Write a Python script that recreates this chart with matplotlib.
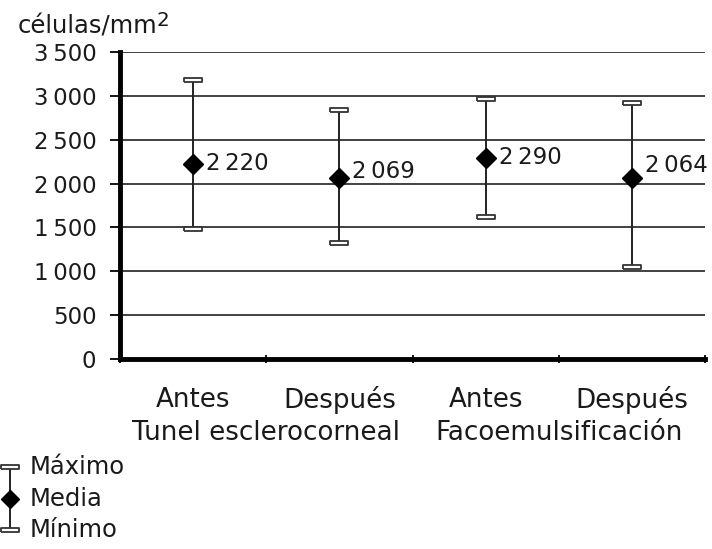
import matplotlib
matplotlib.use("Agg")
import matplotlib.pyplot as plt
from matplotlib.lines import Line2D
import numpy as np

categories = ["Antes", "Después", "Antes", "Después"]
groups = ["Tunel esclerocorneal", "Facoemulsificación"]
maximo = [3180, 2840, 2960, 2915]
media = [2220, 2069, 2290, 2064]
minimo = [1480, 1325, 1615, 1045]
yticks = [0, 500, 1000, 1500, 2000, 2500, 3000, 3500]
ytick_labels = ["0", "500", "1\u2009000", "1\u2009500", "2\u2009000", "2\u2009500", "3\u2009000", "3\u2009500"]
media_labels = ["2\u2009220", "2\u2009069", "2\u2009290", "2\u2009064"]

plt.rcParams['font.family'] = ['DejaVu Sans']
FS = 17.5
FSC = 18.8
FSN = 16.5
TXT = "#1a1a1a"

W, H = 712, 549
fig = plt.figure(figsize=(W / 100, H / 100), dpi=100)
ax = fig.add_axes([120 / W, 1 - 359 / H, (705 - 120) / W, (359 - 52) / H])

x = np.arange(len(categories))
ax.set_xlim(-0.5, len(categories) - 0.5)
ax.set_ylim(0, 3500)

for yv in yticks[1:]:
    ax.axhline(yv, color="#333333", lw=1.3, zorder=1)

rect = [(-1, -0.25), (1, -0.25), (1, 0.25), (-1, 0.25), (-1, -0.25)]
for i in range(len(categories)):
    ax.plot([x[i], x[i]], [minimo[i], maximo[i]], color="#222222", lw=1.4, zorder=2)
ax.plot(x, maximo, ls="none", marker=rect, markersize=13, markerfacecolor="white",
        markeredgecolor="#333333", markeredgewidth=1.3, zorder=3)
ax.plot(x, minimo, ls="none", marker=rect, markersize=13, markerfacecolor="white",
        markeredgecolor="#333333", markeredgewidth=1.3, zorder=3)
ax.plot(x, media, ls="none", marker="D", markersize=10, color="black", zorder=4)

offsets = [(13, 1), (13, 6), (13, 1), (13, 12)]
for i in range(len(categories)):
    ax.annotate(media_labels[i], (x[i], media[i]), xytext=offsets[i], textcoords="offset pixels",
                ha="left", va="center", fontsize=FSN, color=TXT)

ax.set_yticks(yticks)
ax.set_yticklabels(ytick_labels, fontsize=FSN, color=TXT)
ax.set_xticks(np.arange(-0.5, len(categories), 1.0))
ax.set_xticklabels([])
ax.tick_params(axis="y", length=7, width=1.3, pad=10, direction="out")
ax.tick_params(axis="x", length=6, width=1.3, direction="inout")
for s in ["top", "right"]:
    ax.spines[s].set_visible(False)
ax.spines["left"].set_linewidth(3.5)
ax.spines["bottom"].set_linewidth(3.5)
ax.spines["left"].set_zorder(5)
ax.spines["bottom"].set_zorder(5)

for i, c in enumerate(categories):
    ax.text(x[i], -0.133, c, transform=ax.get_xaxis_transform(), ha="center", va="center",
            fontsize=FSC, color=TXT)
for g, name in enumerate(groups):
    ax.text(2 * g + 0.5, -0.242, name, transform=ax.get_xaxis_transform(), ha="center", va="center",
            fontsize=FSC, color=TXT)

t = fig.text(18 / W, 1 - 27 / H, "células/mm", fontsize=FS, color=TXT, ha="left", va="center")
fig.canvas.draw()
ax.annotate("2", xy=(1, 0.5), xycoords=t, xytext=(-1, 7), textcoords="offset pixels",
            fontsize=FS * 0.82, color=TXT, ha="left", va="center", annotation_clip=False)

# legend drawn in figure pixels
lx = 10
ys = [467, 499, 530]
fig.add_artist(Line2D([lx / W, lx / W], [1 - ys[0] / H, 1 - ys[2] / H], transform=fig.transFigure,
                      color="#222222", lw=1.4))
fig.add_artist(Line2D([lx / W], [1 - ys[0] / H], transform=fig.transFigure, marker=rect, markersize=13,
                      markerfacecolor="white", markeredgecolor="#333333", markeredgewidth=1.3))
fig.add_artist(Line2D([lx / W], [1 - ys[2] / H], transform=fig.transFigure, marker=rect, markersize=13,
                      markerfacecolor="white", markeredgecolor="#333333", markeredgewidth=1.3))
fig.add_artist(Line2D([lx / W], [1 - ys[1] / H], transform=fig.transFigure, marker="D", markersize=9,
                      color="black"))
for yy, lab in zip(ys, ["Máximo", "Media", "Mínimo"]):
    fig.text(30 / W, 1 - yy / H, lab, fontsize=FS, color=TXT, ha="left", va="center")

fig.savefig("out.png", dpi=100)
